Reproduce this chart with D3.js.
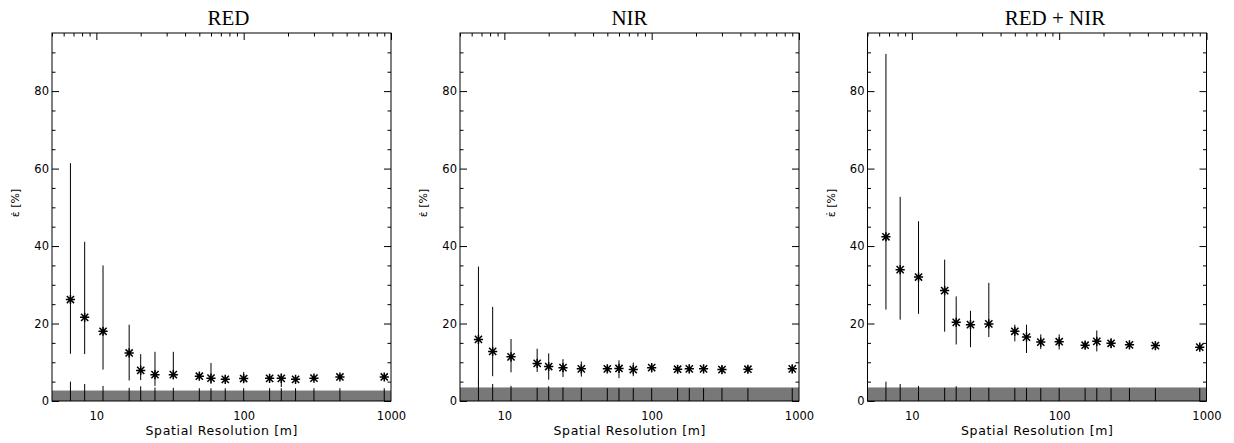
<!DOCTYPE html>
<html>
<head>
<meta charset="utf-8">
<script src="https://cdn.jsdelivr.net/npm/d3@7"></script>
<style>
  body { margin: 0; background: #fff; }
  text { font-family: "DejaVu Sans", sans-serif; fill: #000; }
</style>
</head>
<body>
<svg id="chart" width="1234" height="443"></svg>
<script>
// =======================
//  Data
// =======================

var resolution = [6.67, 8.33, 11.1, 16.7, 20, 25, 33.3, 50, 60, 75, 100, 150, 180, 225, 300, 450, 900];

var panelTitles = ["RED", "NIR", "RED + NIR"];

var redMean = [26.2, 21.6, 18.0, 12.4, 7.9, 6.8, 6.8, 6.4, 5.9, 5.6, 5.8, 5.85, 5.85, 5.6, 5.9, 6.2, 6.2];
var redLow  = [12.2, 12.1, 8.1, 5.3, 5.4, 3.9, 5.6, 5.6, 4.4, 4.9, 4.8, 5.1, 3.6, 4.9, 5.2, 5.5, 5.5];
var redHigh = [61.4, 41.1, 35.0, 19.7, 12.1, 12.7, 12.7, 7.3, 9.8, 6.6, 7.5, 6.6, 7.1, 6.4, 6.6, 6.9, 6.9];

var nirMean = [15.9, 12.8, 11.4, 9.7, 8.9, 8.6, 8.3, 8.3, 8.4, 8.1, 8.6, 8.2, 8.3, 8.3, 8.1, 8.2, 8.3];
var nirLow  = [4.6, 6.4, 7.4, 7.5, 5.5, 6.2, 6.3, 7.3, 5.9, 6.4, 7.4, 7.2, 7.2, 7.3, 7.1, 7.2, 7.3];
var nirHigh = [34.7, 24.3, 16.0, 13.5, 12.3, 10.8, 10.2, 9.2, 10.5, 9.9, 9.5, 9.2, 9.4, 9.3, 9.1, 9.1, 9.3];

var bothMean = [42.4, 33.9, 32.0, 28.5, 20.3, 19.7, 19.9, 18.0, 16.5, 15.2, 15.3, 14.4, 15.4, 14.9, 14.5, 14.3, 13.9];
var bothLow  = [23.6, 21.0, 22.5, 17.9, 14.6, 13.9, 16.5, 15.4, 12.4, 13.4, 13.3, 13.5, 12.8, 13.6, 13.6, 13.5, 13.1];
var bothHigh = [89.6, 52.7, 46.4, 36.5, 27.0, 23.3, 30.5, 19.7, 19.7, 17.2, 17.2, 15.4, 18.2, 16.2, 15.5, 15.2, 14.8];

// grey band at the bottom of each panel, and the little rug marks in it
var bandTop = [2.7, 3.5, 3.5];
var rugTop = [5.0, 4.4, 3.9, 3.4, 3.8, 3.5, 3.4, 3.3, 3.3, 3.3, 3.3, 3.3, 3.3, 3.3, 3.3, 3.3, 3.3];

var xDomain = [5, 1000];
var yDomain = [0, 95];
var xTickValues = [10, 100, 1000];
var yTickValues = [0, 20, 40, 60, 80];

// =======================
//  Layout
// =======================

var svg = d3.select("#chart");
var panelLeft = [52, 460, 867.5];
var plotW = 339;
var plotTop = 33;
var plotBottom = 401;
var titleShift = [7, 0, 18];

var series = [
    {mean: redMean, low: redLow, high: redHigh},
    {mean: nirMean, low: nirLow, high: nirHigh},
    {mean: bothMean, low: bothLow, high: bothHigh}
];

function minorLogTicks(lo, hi) {
    var out = [];
    for (var dec = 1; dec <= 1000; dec *= 10) {
        for (var k = 1; k < 10; k++) {
            var v = k * dec;
            if (v >= lo && v <= hi && xTickValues.indexOf(v) < 0) out.push(v);
        }
    }
    return out;
}

function starPath(cx, cy) {
    var a = 4.6, b = 3.6;
    return "M" + (cx - a) + "," + cy + "H" + (cx + a) +
           "M" + cx + "," + (cy - a) + "V" + (cy + a) +
           "M" + (cx - b) + "," + (cy - b) + "L" + (cx + b) + "," + (cy + b) +
           "M" + (cx - b) + "," + (cy + b) + "L" + (cx + b) + "," + (cy - b);
}

function drawPanel(i) {
    var left = panelLeft[i];
    var x = d3.scaleLog().domain(xDomain).range([left, left + plotW]);
    var y = d3.scaleLinear().domain(yDomain).range([plotBottom, plotTop]);
    var g = svg.append("g");
    var d = series[i];

    var yMinor = d3.range(5, 95, 5).filter(v => yTickValues.indexOf(v) < 0);
    var xMinor = minorLogTicks(xDomain[0], xDomain[1]);

    // ---- axes (ticks point inward) ----
    g.append("g").attr("transform", `translate(${left},0)`)
        .call(d3.axisLeft(y).tickValues(yTickValues).tickSize(-7).tickPadding(3))
        .call(a => a.selectAll("text").style("font-size", "11.5px"));
    g.append("g").attr("transform", `translate(${left},0)`)
        .call(d3.axisLeft(y).tickValues(yMinor).tickSize(-3.5).tickFormat(""));
    g.append("g").attr("transform", `translate(${left + plotW},0)`)
        .call(d3.axisRight(y).tickValues(yTickValues).tickSize(-7).tickFormat(""));
    g.append("g").attr("transform", `translate(${left + plotW},0)`)
        .call(d3.axisRight(y).tickValues(yMinor).tickSize(-3.5).tickFormat(""));
    g.append("g").attr("transform", `translate(0,${plotTop})`)
        .call(d3.axisTop(x).tickValues(xTickValues).tickSize(-7).tickFormat(""));
    g.append("g").attr("transform", `translate(0,${plotTop})`)
        .call(d3.axisTop(x).tickValues(xMinor).tickSize(-3.5).tickFormat(""));
    g.append("g").attr("transform", `translate(0,${plotBottom})`)
        .call(d3.axisBottom(x).tickValues(xTickValues).tickSize(0).tickPadding(11).tickFormat(d3.format("d")))
        .call(a => a.selectAll("text").style("font-size", "11.5px"));
    g.selectAll(".domain").remove();
    g.selectAll(".tick line").attr("stroke", "#000");

    // ---- grey band + rug ----
    g.append("rect")
        .attr("x", x(xDomain[0]))
        .attr("y", y(bandTop[i]))
        .attr("width", x(xDomain[1]) - x(xDomain[0]))
        .attr("height", y(0) - y(bandTop[i]))
        .attr("fill", "#787878");

    g.selectAll(".rug").data(resolution).join("line")
        .attr("class", "rug")
        .attr("x1", r => x(r)).attr("x2", r => x(r))
        .attr("y1", y(0)).attr("y2", (r, j) => y(rugTop[j]))
        .attr("stroke", "#000").attr("stroke-width", 1);

    // ---- error bars ----
    g.selectAll(".err").data(resolution).join("line")
        .attr("class", "err")
        .attr("x1", r => x(r)).attr("x2", r => x(r))
        .attr("y1", (r, j) => y(d.low[j])).attr("y2", (r, j) => y(d.high[j]))
        .attr("stroke", "#000").attr("stroke-width", 1);

    // ---- asterisks ----
    g.selectAll(".star").data(resolution).join("path")
        .attr("class", "star")
        .attr("d", (r, j) => starPath(x(r), y(d.mean[j])))
        .attr("stroke", "#000").attr("stroke-width", 1.5).attr("fill", "none");

    // ---- frame ----
    g.append("rect")
        .attr("x", left).attr("y", plotTop)
        .attr("width", plotW).attr("height", plotBottom - plotTop)
        .attr("fill", "none").attr("stroke", "#000").attr("stroke-width", 1);

    // ---- titles ----
    g.append("text")
        .attr("x", left + plotW / 2 + titleShift[i]).attr("y", 25)
        .attr("text-anchor", "middle")
        .style("font-family", "'Liberation Serif', 'Times New Roman', serif")
        .style("font-size", "21px")
        .text(panelTitles[i]);

    g.append("text")
        .attr("x", left + plotW / 2).attr("y", 435)
        .attr("text-anchor", "middle")
        .attr("textLength", 152).attr("lengthAdjust", "spacing")
        .style("font-size", "12.5px")
        .text("Spatial Resolution [m]");

    g.append("text")
        .attr("transform", `translate(${left - 33},203) rotate(-90)`)
        .attr("text-anchor", "middle")
        .style("font-size", "11px")
        .text("\u03b5\u0307 [%]");
}

for (var i = 0; i < 3; i++) drawPanel(i);
</script>
</body>
</html>
